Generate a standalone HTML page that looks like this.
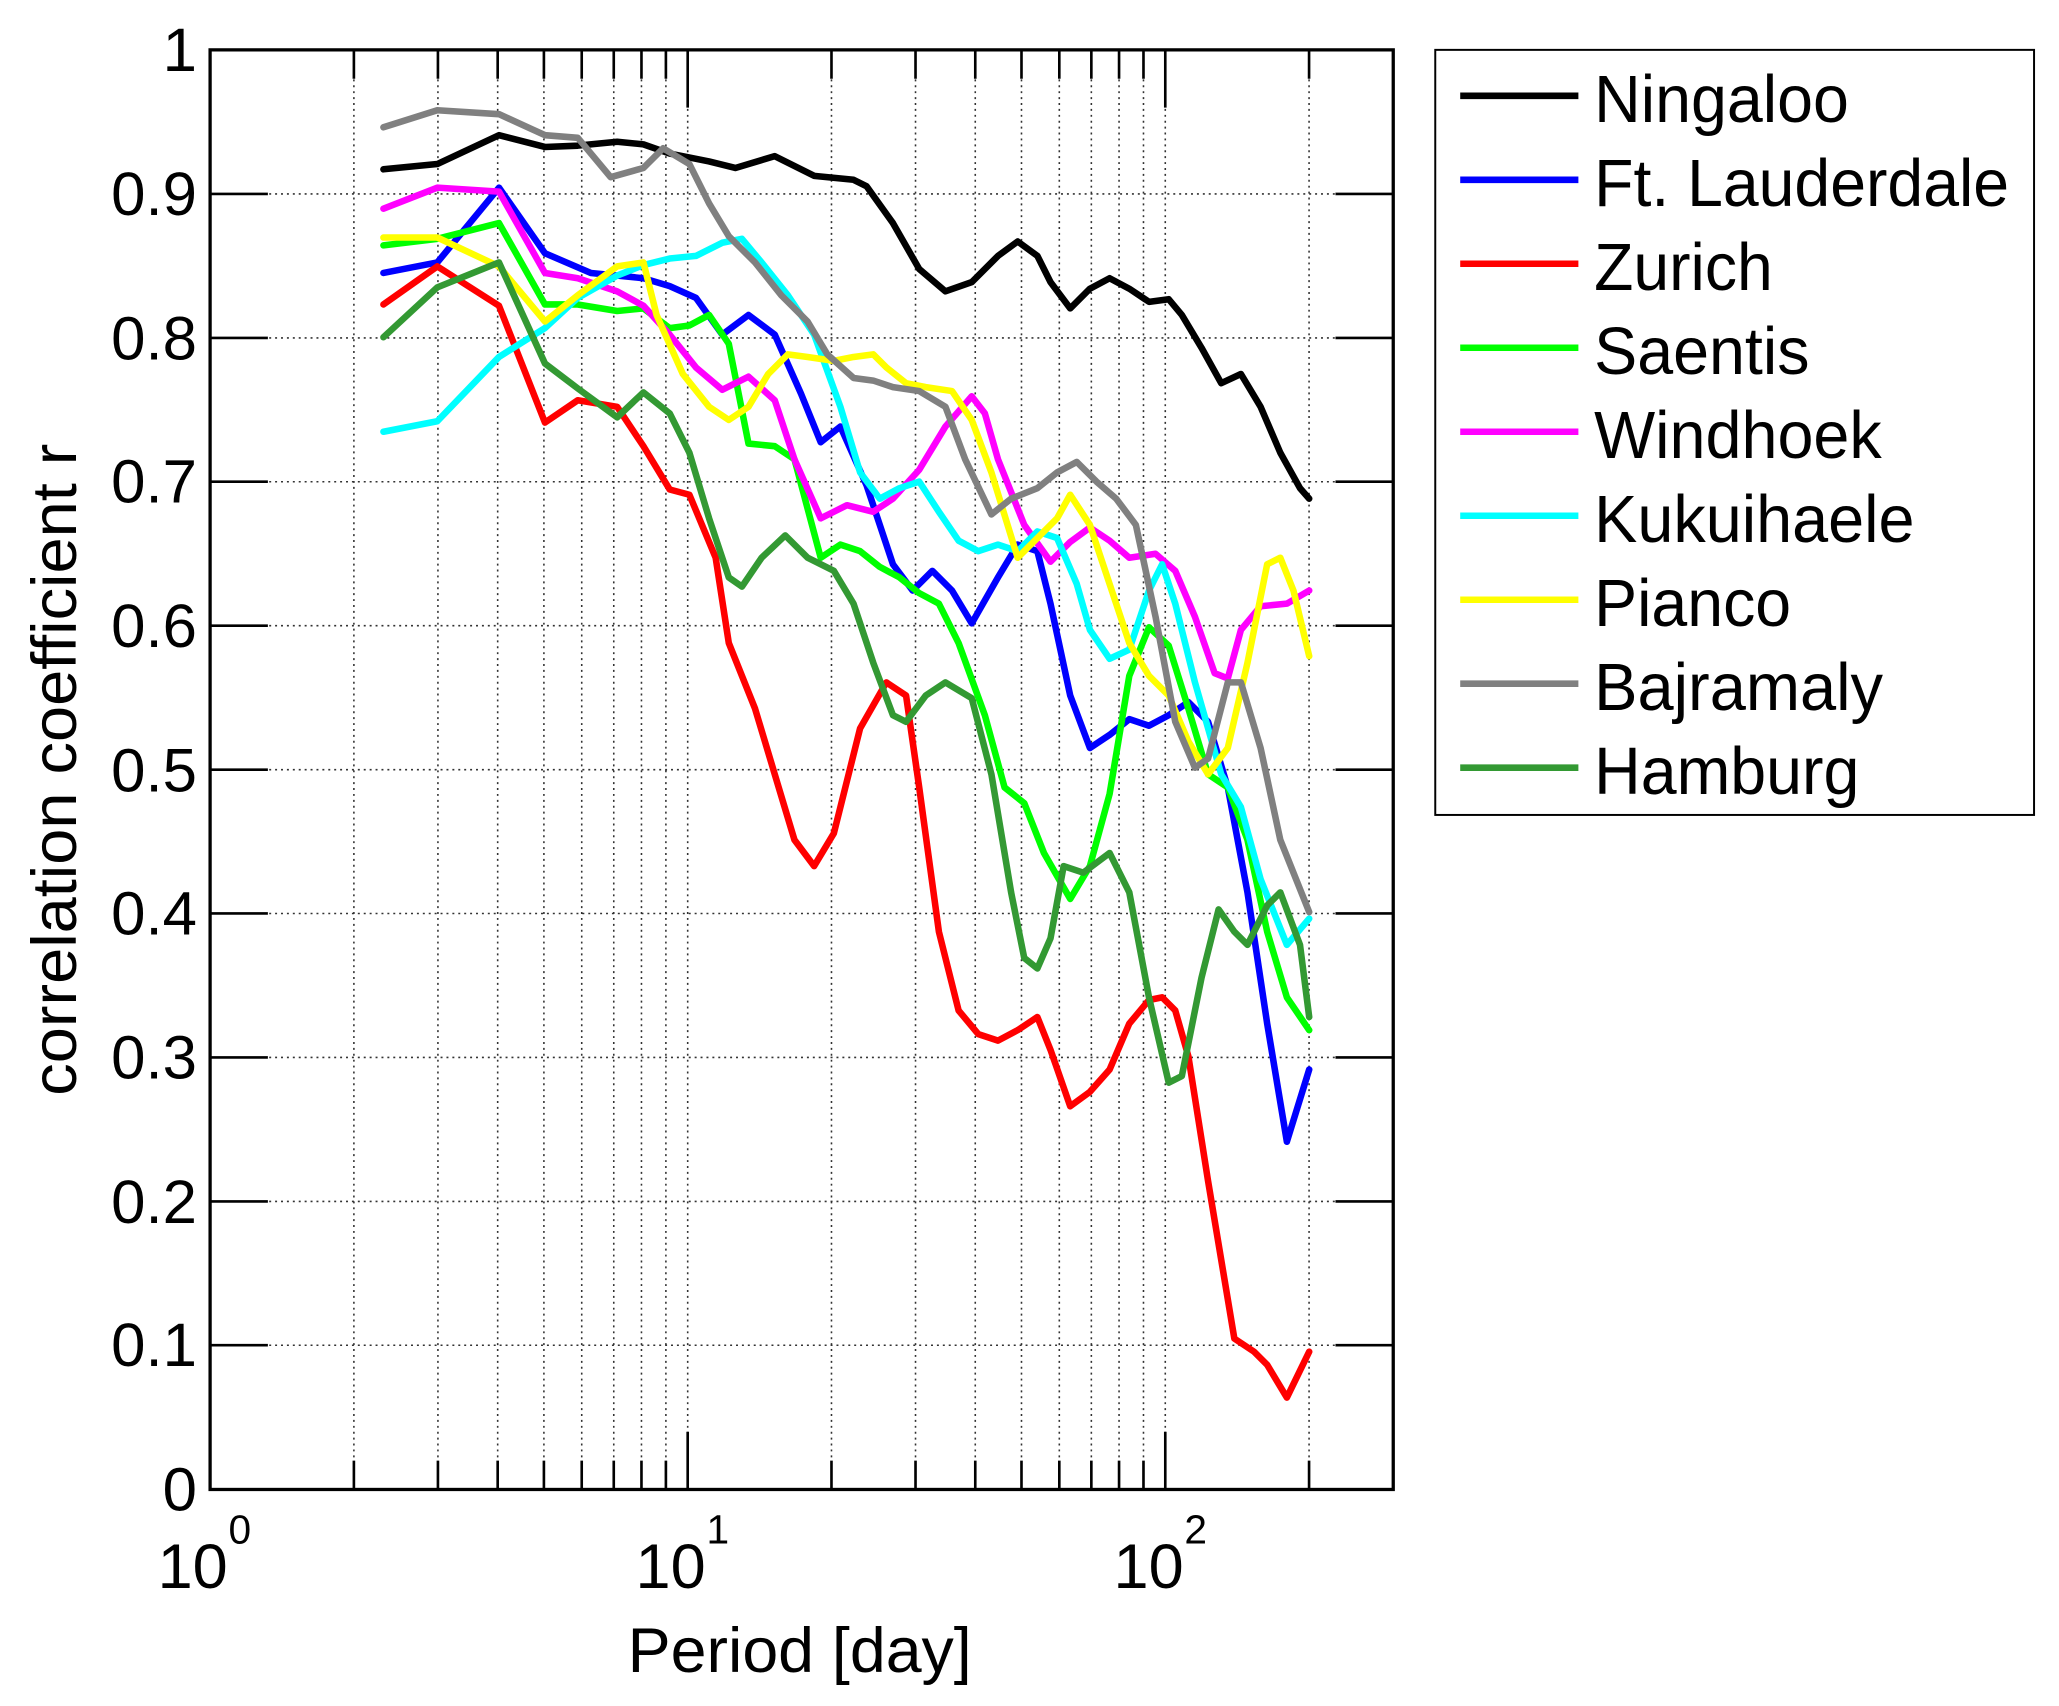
<!DOCTYPE html>
<html><head><meta charset="utf-8"><style>
html,body{margin:0;padding:0;background:#fff;}
svg{display:block;}
text{font-family:"Liberation Sans",Arial,sans-serif;fill:#000;}
</style></head><body>
<svg width="2059" height="1706" viewBox="0 0 1568 1300" preserveAspectRatio="none" xmlns="http://www.w3.org/2000/svg">
<rect x="0" y="0" width="1568" height="1300" fill="#fff"/>
<g id="grid" stroke="#000" stroke-width="1.2" stroke-dasharray="1.5 3" opacity="0.8">
<line x1="160" y1="147.8" x2="1061" y2="147.8"/>
<line x1="160" y1="257.5" x2="1061" y2="257.5"/>
<line x1="160" y1="367.1" x2="1061" y2="367.1"/>
<line x1="160" y1="476.8" x2="1061" y2="476.8"/>
<line x1="160" y1="586.5" x2="1061" y2="586.5"/>
<line x1="160" y1="696.1" x2="1061" y2="696.1"/>
<line x1="160" y1="805.8" x2="1061" y2="805.8"/>
<line x1="160" y1="915.5" x2="1061" y2="915.5"/>
<line x1="160" y1="1025.1" x2="1061" y2="1025.1"/>
<line x1="269.5" y1="38" x2="269.5" y2="1135"/>
<line x1="333.5" y1="38" x2="333.5" y2="1135"/>
<line x1="379" y1="38" x2="379" y2="1135"/>
<line x1="414.2" y1="38" x2="414.2" y2="1135"/>
<line x1="443" y1="38" x2="443" y2="1135"/>
<line x1="467.4" y1="38" x2="467.4" y2="1135"/>
<line x1="488.5" y1="38" x2="488.5" y2="1135"/>
<line x1="507.1" y1="38" x2="507.1" y2="1135"/>
<line x1="523.7" y1="38" x2="523.7" y2="1135"/>
<line x1="633.2" y1="38" x2="633.2" y2="1135"/>
<line x1="697.2" y1="38" x2="697.2" y2="1135"/>
<line x1="742.7" y1="38" x2="742.7" y2="1135"/>
<line x1="777.9" y1="38" x2="777.9" y2="1135"/>
<line x1="806.7" y1="38" x2="806.7" y2="1135"/>
<line x1="831.1" y1="38" x2="831.1" y2="1135"/>
<line x1="852.2" y1="38" x2="852.2" y2="1135"/>
<line x1="870.8" y1="38" x2="870.8" y2="1135"/>
<line x1="887.4" y1="38" x2="887.4" y2="1135"/>
<line x1="996.9" y1="38" x2="996.9" y2="1135"/>
</g>
<g stroke="#000" stroke-width="2">
<path d="M160 147.8h44M160 257.5h44M160 367.1h44M160 476.8h44M160 586.5h44M160 696.1h44M160 805.8h44M160 915.5h44M160 1025.1h44"/>
<path d="M1061 147.8h-44M1061 257.5h-44M1061 367.1h-44M1061 476.8h-44M1061 586.5h-44M1061 696.1h-44M1061 805.8h-44M1061 915.5h-44M1061 1025.1h-44"/>
<path d="M523.7 1135v-44M887.4 1135v-44M523.7 38v44M887.4 38v44"/>
<path d="M269.5 1135v-22M333.5 1135v-22M379 1135v-22M414.2 1135v-22M443 1135v-22M467.4 1135v-22M488.5 1135v-22M507.1 1135v-22M633.2 1135v-22M697.2 1135v-22M742.7 1135v-22M777.9 1135v-22M806.7 1135v-22M831.1 1135v-22M852.2 1135v-22M870.8 1135v-22M996.9 1135v-22"/>
<path d="M269.5 38v22M333.5 38v22M379 38v22M414.2 38v22M443 38v22M467.4 38v22M488.5 38v22M507.1 38v22M633.2 38v22M697.2 38v22M742.7 38v22M777.9 38v22M806.7 38v22M831.1 38v22M852.2 38v22M870.8 38v22M996.9 38v22"/>
</g>
<g fill="none" stroke-width="5" stroke-linejoin="round" stroke-linecap="round">
<polyline stroke="#000000" points="292,129 333,125 380,103 415,112 440,111 470,108 490,110 510,117 540,123 560,128 590,119 620,134 650,137 660,142 680,170 700,205 720,222 740,215 760,195 775,184 790,195 800,215 815,235 830,220 845,212 860,220 875,230 890,228 900,240 915,265 930,292 945,285 960,310 975,345 990,372 997,380"/>
<polyline stroke="#0000ff" points="292,208 333,200 380,143 415,193 450,208 490,212 510,218 530,227 550,255 570,240 590,255 610,300 625,337 640,325 660,370 680,430 695,450 710,435 725,450 740,475 760,440 775,415 790,420 800,460 815,530 830,570 845,560 860,548 875,553 890,545 905,535 920,550 935,600 950,680 965,780 980,870 997,815"/>
<polyline stroke="#ff0000" points="292,232 333,203 380,233 415,322 440,305 470,310 490,340 510,373 525,377 545,425 555,490 575,540 590,590 605,640 620,660 635,635 655,555 675,520 690,530 700,600 715,710 730,770 745,788 760,793 775,785 790,775 800,800 815,843 830,832 845,815 860,780 875,762 885,760 895,770 905,805 920,900 940,1020 955,1030 965,1040 980,1065 997,1030"/>
<polyline stroke="#00ff00" points="292,187 333,182 380,170 415,232 440,232 470,237 490,235 510,250 525,248 540,240 555,262 570,338 590,340 605,350 625,425 640,415 655,420 670,432 685,440 700,452 715,460 730,490 750,545 765,600 780,612 795,650 815,685 830,660 845,605 860,515 875,478 890,492 905,540 920,590 935,600 950,640 965,710 980,760 997,785"/>
<polyline stroke="#ff00ff" points="292,159 333,143 380,146 415,208 440,212 470,222 490,233 510,255 530,280 550,297 570,287 590,305 605,350 625,395 645,385 665,390 680,380 700,358 720,325 740,302 750,315 760,350 780,400 800,428 815,413 830,402 845,412 860,425 880,422 895,435 910,470 925,513 935,517 945,480 960,462 980,460 997,450"/>
<polyline stroke="#00ffff" points="292,329 333,321 380,272 415,250 440,227 470,210 490,202 510,197 530,195 550,185 565,182 580,200 600,225 620,255 640,310 655,360 670,380 685,372 700,367 715,390 730,412 745,420 760,415 775,420 790,405 805,410 820,445 830,480 845,502 860,495 875,450 885,430 895,460 910,520 930,590 945,615 960,670 980,720 997,700"/>
<polyline stroke="#ffff00" points="292,181 333,181 380,203 415,245 440,225 470,203 490,200 500,240 520,285 540,310 555,320 570,310 585,285 600,270 615,272 635,275 650,272 665,270 675,280 690,292 705,295 725,298 740,320 755,360 775,425 790,410 805,395 815,377 830,400 845,445 860,490 875,515 890,530 905,565 920,590 935,570 950,505 965,430 975,425 985,450 997,500"/>
<polyline stroke="#808080" points="292,97 333,84 380,87 415,103 440,105 465,135 490,128 505,113 525,125 540,155 555,180 575,200 595,225 615,245 630,270 650,288 665,290 680,295 700,298 720,310 735,350 755,392 770,380 790,372 805,360 820,352 835,367 850,380 865,400 880,470 895,550 910,585 920,578 935,520 945,520 960,570 975,640 997,695"/>
<polyline stroke="#339933" points="292,257 333,219 380,200 415,277 440,296 470,318 490,299 510,315 525,345 540,395 555,440 565,447 580,425 598,408 615,425 635,435 650,460 665,505 680,545 690,550 705,530 720,520 740,532 755,590 770,680 780,730 790,738 800,715 810,660 825,665 845,650 860,680 875,760 890,825 900,820 915,745 928,693 940,710 950,720 965,690 975,680 990,720 997,775"/>
</g>
<rect x="160" y="38" width="901" height="1097" fill="none" stroke="#000" stroke-width="2.5"/>
<g font-size="47" text-anchor="end">
<text x="150" y="54">1</text>
<text x="150" y="164">0.9</text>
<text x="150" y="274">0.8</text>
<text x="150" y="383">0.7</text>
<text x="150" y="493">0.6</text>
<text x="150" y="603">0.5</text>
<text x="150" y="712">0.4</text>
<text x="150" y="822">0.3</text>
<text x="150" y="932">0.2</text>
<text x="150" y="1041">0.1</text>
<text x="150" y="1151">0</text>
</g>
<g font-size="48">
<text x="120" y="1210">10</text><text x="174" y="1176" font-size="31">0</text>
<text x="484" y="1210">10</text><text x="538" y="1176" font-size="31">1</text>
<text x="848" y="1210">10</text><text x="902" y="1176" font-size="31">2</text>
</g>
<text x="478" y="1274" font-size="48" textLength="262" lengthAdjust="spacingAndGlyphs">Period [day]</text>
<text transform="translate(58,835) rotate(-90)" font-size="48" textLength="497" lengthAdjust="spacingAndGlyphs">correlation coefficient r</text>
<rect x="1093" y="38" width="456" height="583" fill="#fff" stroke="#000" stroke-width="1.5"/>
<g stroke-width="5">
<line x1="1112" y1="73" x2="1202" y2="73" stroke="#000"/>
<line x1="1112" y1="137" x2="1202" y2="137" stroke="#0000ff"/>
<line x1="1112" y1="201" x2="1202" y2="201" stroke="#ff0000"/>
<line x1="1112" y1="265" x2="1202" y2="265" stroke="#00ff00"/>
<line x1="1112" y1="329" x2="1202" y2="329" stroke="#ff00ff"/>
<line x1="1112" y1="393" x2="1202" y2="393" stroke="#00ffff"/>
<line x1="1112" y1="457" x2="1202" y2="457" stroke="#ffff00"/>
<line x1="1112" y1="521" x2="1202" y2="521" stroke="#808080"/>
<line x1="1112" y1="585" x2="1202" y2="585" stroke="#339933"/>
</g>
<g font-size="51">
<text x="1214" y="93" textLength="194" lengthAdjust="spacingAndGlyphs">Ningaloo</text>
<text x="1214" y="157" textLength="316" lengthAdjust="spacingAndGlyphs">Ft. Lauderdale</text>
<text x="1214" y="221" textLength="136" lengthAdjust="spacingAndGlyphs">Zurich</text>
<text x="1214" y="285" textLength="164" lengthAdjust="spacingAndGlyphs">Saentis</text>
<text x="1214" y="349" textLength="219" lengthAdjust="spacingAndGlyphs">Windhoek</text>
<text x="1214" y="413" textLength="244" lengthAdjust="spacingAndGlyphs">Kukuihaele</text>
<text x="1214" y="477" textLength="150" lengthAdjust="spacingAndGlyphs">Pianco</text>
<text x="1214" y="541" textLength="220" lengthAdjust="spacingAndGlyphs">Bajramaly</text>
<text x="1214" y="605" textLength="202" lengthAdjust="spacingAndGlyphs">Hamburg</text>
</g>
</svg>
</body></html>
